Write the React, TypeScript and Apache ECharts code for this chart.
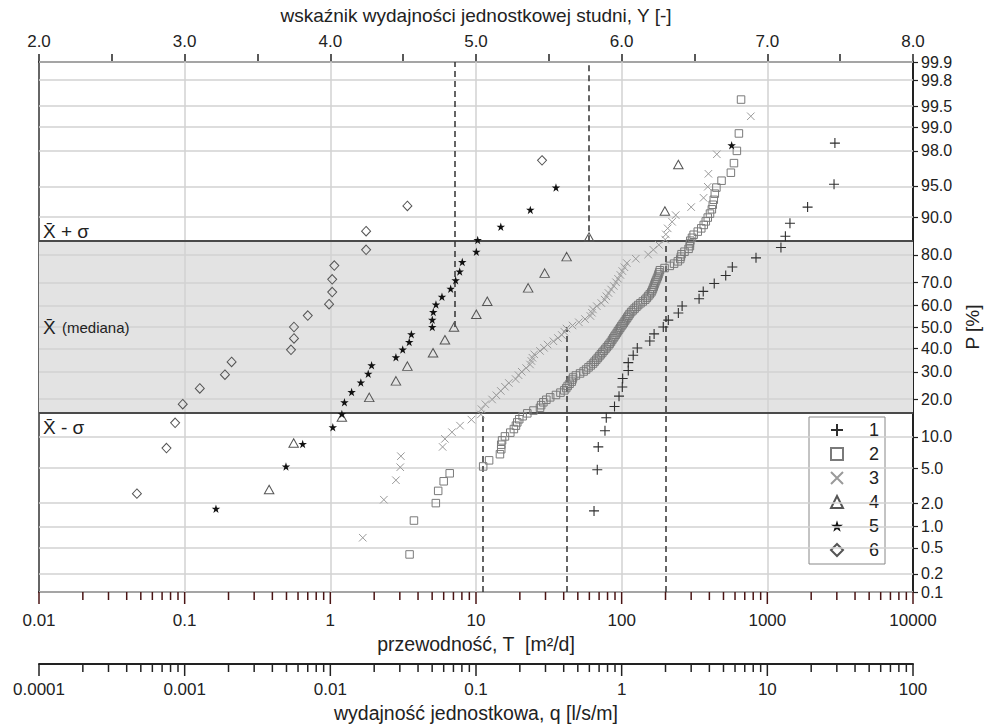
import React, { useEffect, useRef } from 'react';
import * as echarts from 'echarts';

const FONT = '"Liberation Sans", Arial, Helvetica, sans-serif';

// ---------- axis ticks / labels ----------
const P_TICKS = [0.1, 0.2, 0.5, 1, 2, 5, 10, 20, 30, 40, 50, 60, 70, 80, 90, 95, 98, 99, 99.5, 99.8, 99.9];
const P_TICK_LABELS = ['0.1', '0.2', '0.5', '1.0', '2.0', '5.0', '10.0', '20.0', '30.0', '40.0', '50.0', '60.0', '70.0', '80.0', '90.0', '95.0', '98.0', '99.0', '99.5', '99.8', '99.9'];
const T_TICKS = [0.01, 0.1, 1, 10, 100, 1000, 10000];
const T_TICK_LABELS = ['0.01', '0.1', '1', '10', '100', '1000', '10000'];
const Q_TICKS = [0.0001, 0.001, 0.01, 0.1, 1, 10, 100];
const Q_TICK_LABELS = ['0.0001', '0.001', '0.01', '0.1', '1', '10', '100'];
const Y_TICKS = [2, 3, 4, 5, 6, 7, 8];
const Y_TICK_LABELS = ['2.0', '3.0', '4.0', '5.0', '6.0', '7.0', '8.0'];
const MINOR_STEPS = [2, 3, 4, 5, 6, 7, 8, 9];
// q axis sits this many pixels below the T axis
const Q_AXIS_OFFSET = 72;

// ---------- data: transmissivity T [m2/d] and probability P [%] ----------
const S1_T = [64.6, 68.0, 69.1, 76.8, 78.4, 89.3, 95.9, 101, 101.6, 111, 111, 120, 128, 156, 167, 193, 209, 245, 260, 340, 363, 432, 518, 575, 836, 1240, 1330, 1430, 1890, 2870, 2910];
const S1_P = [1.6, 4.8, 8.1, 11.3, 14.5, 17.7, 21.0, 24.2, 27.4, 30.6, 33.9, 37.1, 40.3, 43.5, 46.8, 50.0, 53.2, 56.5, 59.7, 62.9, 66.1, 69.4, 72.6, 75.8, 79.0, 82.3, 85.5, 88.7, 91.9, 95.2, 98.4];

const S2_T = [3.5, 3.75, 5.3, 5.5, 6.0, 6.6, 11.2, 12.3, 14.6, 14.9, 14.9, 15.1, 15.8, 17.2, 18.2, 18.8, 19.2, 19.8, 20.9, 22.5, 24.8, 27.5, 28.0, 29.0, 30.4, 32.3, 35.4, 38.0, 40.4, 41.6, 42.6, 43.9, 45.4, 45.9, 46.4, 48.5, 51.8, 54.8, 57.0, 59.2, 61.4, 63.6, 65.2, 66.9, 68.6, 70.3, 72.0, 73.7, 75.5, 77.3, 79.1, 81.0, 82.7, 84.4, 86.0, 87.6, 89.2, 90.9, 92.6, 94.2, 95.9, 97.7, 99.5, 101.5, 103.4, 105.3, 107.3, 109.3, 111.3, 113.3, 116.2, 119.4, 122.7, 126.2, 129.9, 134.6, 139.7, 145.2, 148.8, 152.4, 156.0, 159.7, 162.0, 164.0, 166.0, 168.0, 170.0, 172.3, 174.6, 177.0, 178.9, 181.0, 183.0, 197, 214, 229, 243, 252.5, 255, 257.5, 270, 288, 294, 294, 296, 304, 312, 333, 352, 366, 378, 390, 404, 416, 422, 429, 436, 447, 485, 562, 590, 618, 638, 660];
const S2_P = [0.4, 1.2, 2.0, 2.8, 3.6, 4.4, 5.2, 6.0, 6.9, 7.7, 8.5, 9.3, 10.1, 10.9, 11.7, 12.5, 13.3, 14.1, 14.9, 15.7, 16.5, 17.3, 18.1, 19.0, 19.8, 20.6, 21.4, 22.2, 23.0, 23.8, 24.6, 25.4, 26.2, 27.0, 27.8, 28.6, 29.4, 30.2, 31.0, 31.9, 32.7, 33.5, 34.3, 35.1, 35.9, 36.7, 37.5, 38.3, 39.1, 39.9, 40.7, 41.5, 42.3, 43.1, 44.0, 44.8, 45.6, 46.4, 47.2, 48.0, 48.8, 49.6, 50.4, 51.2, 52.0, 52.8, 53.6, 54.4, 55.2, 56.0, 56.9, 57.7, 58.5, 59.3, 60.1, 60.9, 61.7, 62.5, 63.3, 64.1, 64.9, 65.7, 66.5, 67.3, 68.1, 69.0, 69.8, 70.6, 71.4, 72.2, 73.0, 73.8, 74.6, 75.4, 76.2, 77.0, 77.8, 78.6, 79.4, 80.2, 81.0, 81.9, 82.7, 83.5, 84.3, 85.1, 85.9, 86.7, 87.5, 88.3, 89.1, 89.9, 90.7, 91.5, 92.3, 93.1, 94.0, 94.8, 95.6, 96.4, 97.2, 98.0, 98.8, 99.6];

const S3_T = [1.67, 2.33, 2.82, 3.02, 3.05, 5.9, 6.12, 6.84, 7.77, 9.3, 10.8, 10.9, 11.6, 12.9, 13.8, 14.8, 15.8, 16.8, 18.7, 19.6, 20.6, 22.1, 23.5, 24.0, 24.4, 25.1, 27.5, 29.3, 31.0, 34.0, 36.5, 38.8, 40.4, 41.8, 46.0, 50.8, 56.0, 61.0, 62.5, 63.5, 67.5, 72.5, 76.5, 78.5, 81.2, 84.7, 88.2, 91.5, 94.4, 98, 101, 104.5, 108.5, 125, 152, 165, 180, 199, 201, 207, 222, 235, 300, 365, 390, 394, 450, 770];
const S3_P = [0.7, 2.2, 3.7, 5.1, 6.6, 8.1, 9.6, 11.0, 12.5, 14.0, 15.4, 16.9, 18.4, 19.9, 21.3, 22.8, 24.3, 25.7, 27.2, 28.7, 30.1, 31.6, 33.1, 34.6, 36.0, 37.5, 39.0, 40.4, 41.9, 43.4, 44.9, 46.3, 47.8, 49.3, 50.7, 52.2, 53.7, 55.1, 56.6, 58.1, 59.6, 61.0, 62.5, 64.0, 65.4, 66.9, 68.4, 69.9, 71.3, 72.8, 74.3, 75.7, 77.2, 78.7, 80.1, 81.6, 83.1, 84.6, 86.0, 87.5, 89.0, 90.4, 91.9, 93.4, 94.9, 96.3, 97.8, 99.3];

const S4_T = [0.38, 0.56, 1.2, 1.85, 2.82, 3.38, 5.07, 6.12, 7.06, 10.05, 11.95, 22.8, 29.6, 41.9, 59.7, 198, 245];
const S4_P = [2.9, 8.8, 14.7, 20.6, 26.5, 32.4, 38.2, 44.1, 50.0, 55.9, 61.8, 67.6, 73.5, 79.4, 85.3, 91.2, 97.1];

const S5_T = [0.164, 0.496, 0.646, 1.04, 1.2, 1.25, 1.4, 1.62, 1.82, 1.92, 2.82, 3.14, 3.48, 3.6, 5.01, 5.01, 5.09, 5.31, 5.84, 6.7, 7.25, 7.73, 8.05, 10.05, 10.27, 14.8, 23.6, 35.4, 569];
const S5_P = [1.7, 5.2, 8.6, 12.1, 15.5, 19.0, 22.4, 25.9, 29.3, 32.8, 36.2, 39.7, 43.1, 46.6, 50.0, 53.4, 56.9, 60.3, 63.8, 67.2, 70.7, 74.1, 77.6, 81.0, 84.5, 87.9, 91.4, 94.8, 98.3];

const S6_T = [0.047, 0.075, 0.086, 0.097, 0.127, 0.189, 0.21, 0.537, 0.563, 0.563, 0.70, 0.98, 1.03, 1.03, 1.065, 1.76, 1.76, 3.38, 28.4];
const S6_P = [2.6, 7.9, 13.2, 18.4, 23.7, 28.9, 34.2, 39.5, 44.7, 50.0, 55.3, 60.5, 65.8, 71.1, 76.3, 81.6, 86.8, 92.1, 97.4];

// sigma band (X - sigma, X + sigma) in P [%]
const BAND_P = [15.87, 84.13];
// dashed reference lines: T value, P from, P to
const DASH_T = [7.1, 59.7, 11.1, 41.8, 201];
const DASH_P_FROM = [50, 84.13, 0.1, 0.1, 0.1];
const DASH_P_TO = [99.9, 99.9, 15.87, 50, 84.13];

// ---------- normal probability transform ----------
function normInv(p: number): number {
  const a = [-3.969683028665376e1, 2.209460984245205e2, -2.759285104469687e2, 1.38357751867269e2, -3.066479806614716e1, 2.506628277459239];
  const b = [-5.447609879822406e1, 1.615858368580409e2, -1.556989798598866e2, 6.680131188771972e1, -1.328068155288572e1];
  const c = [-7.784894002430293e-3, -3.223964580411365e-1, -2.400758277161838, -2.549732539343734, 4.374664141464968, 2.938163982698783];
  const d = [7.78469570910019e-3, 3.224671290700398e-1, 2.445134137142996, 3.754408661907416];
  const pl = 0.02425;
  if (p < pl) {
    const q = Math.sqrt(-2 * Math.log(p));
    return (((((c[0] * q + c[1]) * q + c[2]) * q + c[3]) * q + c[4]) * q + c[5]) / ((((d[0] * q + d[1]) * q + d[2]) * q + d[3]) * q + 1);
  }
  if (p <= 1 - pl) {
    const q = p - 0.5;
    const r = q * q;
    return ((((((a[0] * r + a[1]) * r + a[2]) * r + a[3]) * r + a[4]) * r + a[5]) * q) / (((((b[0] * r + b[1]) * r + b[2]) * r + b[3]) * r + b[4]) * r + 1);
  }
  const q = Math.sqrt(-2 * Math.log(1 - p));
  return -(((((c[0] * q + c[1]) * q + c[2]) * q + c[3]) * q + c[4]) * q + c[5]) / ((((d[0] * q + d[1]) * q + d[2]) * q + d[3]) * q + 1);
}
const zOf = (pPct: number) => normInv(pPct / 100);
const Z_TICKS = P_TICKS.map(zOf);
const Z_MIN = zOf(0.1);
const Z_MAX = zOf(99.9);

const lookup = (vals: number[], labels: string[]) => (v: number) => {
  for (let i = 0; i < vals.length; i++) {
    if (Math.abs(v - vals[i]) < 1e-6) return labels[i];
  }
  return '';
};
const expOf = (vals: number[]) => vals.map((v) => Math.log10(v));

// tick marks of the two bottom log axes (T positions; q decades line up with T decades)
const TICK_ITEMS: number[][] = [];
T_TICKS.forEach((dcd, i) => {
  TICK_ITEMS.push([dcd, 1]);
  if (i < T_TICKS.length - 1) MINOR_STEPS.forEach((k) => TICK_ITEMS.push([dcd * k, 0]));
});

const PLUS = 'path://M0,5L10,5M5,0L5,10';
const CROSS = 'path://M0,0L10,10M0,10L10,0';
const STAR = 'path://M5,0L6.18,3.62L10,3.62L6.91,5.86L8.09,9.51L5,7.27L1.91,9.51L3.09,5.86L0,3.62L3.82,3.62Z';

const SERIES_DEF = [
  { name: '1', t: S1_T, p: S1_P, symbol: PLUS, size: 10, fill: 'transparent', stroke: '#2e2e2e', bw: 1.1 },
  { name: '2', t: S2_T, p: S2_P, symbol: 'rect', size: 7.5, fill: 'transparent', stroke: '#7a7a7a', bw: 1 },
  { name: '3', t: S3_T, p: S3_P, symbol: CROSS, size: 7.5, fill: 'transparent', stroke: '#9a9a9a', bw: 1 },
  { name: '4', t: S4_T, p: S4_P, symbol: 'triangle', size: [9.5, 8.5], fill: 'transparent', stroke: '#555', bw: 1 },
  { name: '5', t: S5_T, p: S5_P, symbol: STAR, size: 8.5, fill: '#111', stroke: '#111', bw: 0 },
  { name: '6', t: S6_T, p: S6_P, symbol: 'diamond', size: [9, 9.5], fill: 'transparent', stroke: '#555', bw: 1 },
];

const axisText = { color: '#222', fontFamily: FONT };

const LEFT_TEXTS = [
  { type: 'text', x: 43, y: 231, z: 20, style: { text: 'X\u0304 + σ', fontSize: 19, fontFamily: FONT, fill: '#222', verticalAlign: 'middle' } },
  { type: 'text', x: 43, y: 327, z: 20, style: { text: 'X\u0304', fontSize: 19, fontFamily: FONT, fill: '#222', verticalAlign: 'middle' } },
  { type: 'text', x: 62, y: 327, z: 20, style: { text: '(mediana)', fontSize: 15, fontFamily: FONT, fill: '#222', verticalAlign: 'middle' } },
  { type: 'text', x: 43, y: 427, z: 20, style: { text: 'X\u0304 - σ', fontSize: 19, fontFamily: FONT, fill: '#222', verticalAlign: 'middle' } },
];

function buildOption() {
  const expAxis = (decades: number[], labels: string[], offset: number, name: string, nameGap: number, margin: number) => {
    const ex = expOf(decades);
    return {
      type: 'value', min: ex[0], max: ex[ex.length - 1], interval: 1, gridIndex: 0, position: 'bottom', offset,
      axisLine: { show: true, onZero: false, lineStyle: { color: '#222', width: 2 } },
      axisTick: { show: false },
      axisLabel: { show: true, formatter: lookup(ex, labels), margin, fontSize: 17, showMinLabel: true, showMaxLabel: true, ...axisText },
      splitLine: { show: false },
      name, nameLocation: 'middle', nameGap, nameTextStyle: { fontSize: 19.5, ...axisText },
    };
  };

  const xAxis: any[] = [
    // data axis (log T), hidden
    { type: 'log', logBase: 10, min: 0.01, max: 10000, gridIndex: 0, show: false, position: 'bottom' },
    expAxis(T_TICKS, T_TICK_LABELS, 0, 'przewodność, T  [m²/d]', 40, 20),
    expAxis(Q_TICKS, Q_TICK_LABELS, Q_AXIS_OFFSET, 'wydajność jednostkowa, q [l/s/m]', 37, 17),
    {
      type: 'value', min: 2, max: 8, interval: 0.5, gridIndex: 0, position: 'top',
      axisLine: { show: true, onZero: false, lineStyle: { color: '#222', width: 2 } },
      axisTick: { show: true, inside: false, length: 8, lineStyle: { color: '#222', width: 1.5 } },
      axisLabel: { show: true, formatter: lookup(Y_TICKS, Y_TICK_LABELS), margin: 12, fontSize: 17, ...axisText },
      splitLine: { show: false },
      name: 'wskaźnik wydajności jednostkowej studni, Y [-]', nameLocation: 'middle', nameGap: 37,
      nameTextStyle: { fontSize: 19, ...axisText },
    },
  ];

  const yAxis: any[] = [
    {
      type: 'value', min: Z_MIN, max: Z_MAX, gridIndex: 0, position: 'right',
      axisLine: { show: true, onZero: false, lineStyle: { color: '#222', width: 2 } },
      axisTick: { show: true, inside: false, length: 5, customValues: Z_TICKS, lineStyle: { color: '#222', width: 1.2 } },
      axisLabel: { show: true, customValues: Z_TICKS, formatter: lookup(Z_TICKS, P_TICK_LABELS), margin: 8, fontSize: 16, ...axisText },
      splitLine: { show: false },
      name: 'P [%]', nameLocation: 'middle', nameGap: 50, nameRotate: 90,
      nameTextStyle: { fontSize: 19, ...axisText },
    },
    {
      type: 'value', min: Z_MIN, max: Z_MAX, gridIndex: 0, position: 'left',
      axisLine: { show: true, onZero: false, lineStyle: { color: '#333', width: 1.5 } },
      axisTick: { show: false }, axisLabel: { show: false }, splitLine: { show: false },
    },
  ];

  const gridLines = [
    ...P_TICKS.map((p) => ({ yAxis: zOf(p) })),
    ...T_TICKS.slice(1, -1).map((t) => ({ xAxis: t })),
  ];

  const series: any[] = [
    {
      type: 'line', name: 'band', data: [], xAxisIndex: 0, yAxisIndex: 0, z: 1, silent: true,
      markArea: {
        silent: true, itemStyle: { color: '#e3e3e3' },
        data: [[{ yAxis: zOf(BAND_P[0]) }, { yAxis: zOf(BAND_P[1]) }]],
      },
    },
    {
      type: 'line', name: 'grid', data: [], xAxisIndex: 0, yAxisIndex: 0, z: 2, silent: true,
      markLine: {
        silent: true, symbol: ['none', 'none'], label: { show: false },
        lineStyle: { color: '#d2d2d2', width: 1.5, type: 'solid' },
        data: gridLines,
      },
    },
    {
      type: 'line', name: 'sigma', data: [], xAxisIndex: 0, yAxisIndex: 0, z: 3, silent: true,
      markLine: {
        silent: true, symbol: ['none', 'none'], label: { show: false },
        lineStyle: { color: '#4a4a4a', width: 2, type: 'solid' },
        data: BAND_P.map((p) => ({ yAxis: zOf(p) })),
      },
    },
    {
      type: 'line', name: 'dash', data: [], xAxisIndex: 0, yAxisIndex: 0, z: 3, silent: true,
      markLine: {
        silent: true, symbol: ['none', 'none'], label: { show: false },
        lineStyle: { color: '#333', width: 1.5, type: [6, 4] },
        data: DASH_T.map((t, i) => [{ coord: [t, zOf(DASH_P_FROM[i])] }, { coord: [t, zOf(DASH_P_TO[i])] }]),
      },
    },
    ...SERIES_DEF.map((s, k) => ({
      type: 'scatter', name: s.name, xAxisIndex: 0, yAxisIndex: 0, z: 5 + k,
      symbol: s.symbol, symbolSize: s.size,
      itemStyle: { color: s.fill, borderColor: s.stroke, borderWidth: s.bw, opacity: 1 },
      data: s.t.map((t, i) => [t, zOf(s.p[i])]),
    })),
  ];

  return {
    animation: false,
    backgroundColor: '#fff',
    textStyle: { fontFamily: FONT },
    grid: { left: 39, top: 62, width: 874, height: 530, outerBoundsMode: 'none', containLabel: false },
    xAxis,
    yAxis,
    legend: {
      orient: 'vertical', left: 809, top: 417,
      backgroundColor: '#fff', borderColor: '#888', borderWidth: 1, borderRadius: 0,
      padding: [3, 6, 4, 21], itemGap: 4, itemWidth: 12, itemHeight: 12,
      textStyle: { fontSize: 18, color: '#222', fontFamily: FONT, padding: [0, 0, 0, 21], lineHeight: 20 },
      data: SERIES_DEF.map((s) => s.name),
      selectedMode: false,
    },
    graphic: LEFT_TEXTS,
    series,
  };
}

export default function App() {
  const ref = useRef<HTMLDivElement>(null);
  useEffect(() => {
    if (!ref.current) return;
    const chart = echarts.init(ref.current, undefined, { renderer: 'svg' });
    chart.setOption(buildOption() as any);
    // tick marks of the bottom log axes, placed through the chart's own scale
    const tickEls: any[] = [];
    TICK_ITEMS.forEach(([t, major]) => {
      const pt = chart.convertToPixel({ xAxisIndex: 0, yAxisIndex: 0 }, [t, Z_MIN]) as number[];
      if (!pt) return;
      const len = major === 1 ? 12 : 8;
      [0, Q_AXIS_OFFSET].forEach((off) => {
        tickEls.push({
          type: 'rect', z: 100, zlevel: 5, silent: true,
          shape: { x: pt[0] - 0.75, y: pt[1] + off, width: 1.5, height: len },
          style: { fill: off === 0 ? '#4a1414' : '#222' },
        });
      });
    });
    chart.setOption({ graphic: [...LEFT_TEXTS, ...tickEls] } as any, { replaceMerge: ['graphic'] } as any);
    return () => chart.dispose();
  }, []);
  return (
    <div
      ref={ref}
      style={{ position: 'fixed', left: 0, top: 0, width: 988, height: 724, background: '#fff' }}
    />
  );
}
